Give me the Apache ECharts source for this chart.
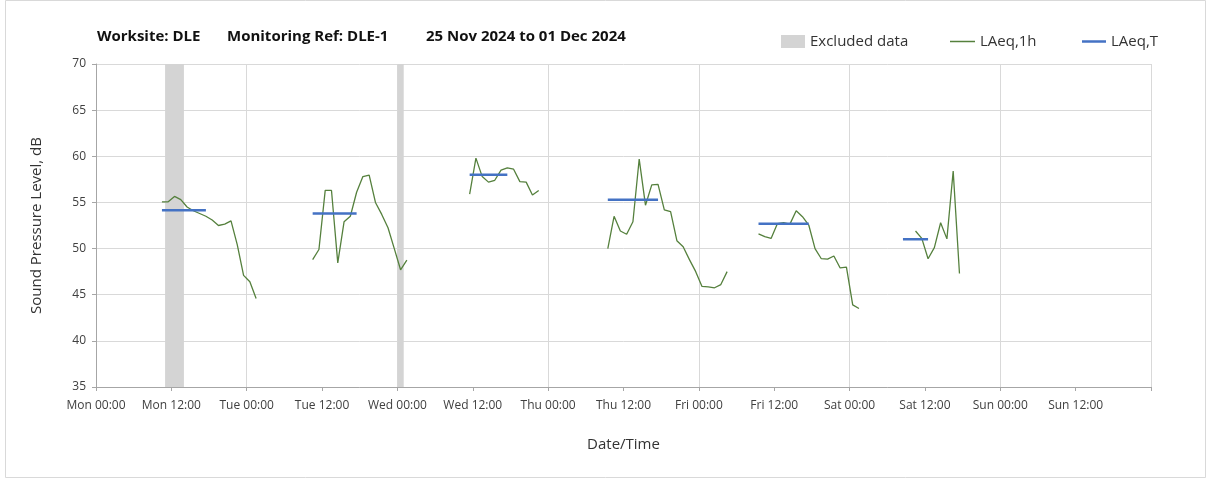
<!DOCTYPE html>
<html>
<head>
<meta charset="utf-8">
<script src="https://cdn.jsdelivr.net/npm/echarts@6/dist/echarts.min.js"></script>
<style>
html,body{margin:0;padding:0;background:#fff;}
#chart{width:1208px;height:479px;}
</style>
</head>
<body>
<div id="chart"></div>
<script>
// ---- Data (hours since Mon 00:00) ----
const dayNames = ['Mon', 'Tue', 'Wed', 'Thu', 'Fri', 'Sat', 'Sun', 'Mon'];
const yTicks = [35, 40, 45, 50, 55, 60, 65, 70];

// LAeq,1h segments: start hour and hourly values
const hourlyStarts = [10.5, 34.5, 59.5, 81.5, 105.5, 130.5];
const hourlyMon = [55.07, 55.07, 55.65, 55.3, 54.5, 54.1, 53.8, 53.5, 53.1, 52.5, 52.65, 53.0, 50.4, 47.1, 46.4, 44.6];
const hourlyTue = [48.8, 49.9, 56.3, 56.3, 48.45, 52.9, 53.5, 56.1, 57.8, 57.95, 55.0, 53.7, 52.25, 50.0, 47.7, 48.75];
const hourlyWed = [55.9, 59.8, 57.8, 57.2, 57.4, 58.5, 58.75, 58.6, 57.25, 57.2, 55.8, 56.3];
const hourlyThu = [50.0, 53.5, 51.9, 51.55, 52.9, 59.7, 54.7, 56.9, 56.95, 54.2, 54.0, 50.85, 50.2, 48.8, 47.5, 45.9, 45.85, 45.75, 46.1, 47.5];
const hourlyFri = [51.6, 51.3, 51.1, 52.7, 52.8, 52.65, 54.1, 53.45, 52.55, 50.0, 48.9, 48.85, 49.2, 47.9, 48.0, 43.9, 43.5];
const hourlySat = [51.9, 51.1, 48.9, 50.1, 52.8, 51.05, 58.4, 47.3];

// LAeq,T periods: start hour, end hour, level
const periodStarts = [10.5, 34.5, 59.5, 81.5, 105.5, 128.5];
const periodEnds = [17.5, 41.5, 65.5, 89.5, 113.5, 132.5];
const periodLevels = [54.15, 53.8, 58.0, 55.3, 52.7, 51.0];

// Excluded data ranges (hours)
const excludedStarts = [11, 48];
const excludedEnds = [14, 49];

// ---- Build series data ----
const hourlySegments = [hourlyMon, hourlyTue, hourlyWed, hourlyThu, hourlyFri, hourlySat];
const hourlyData = [];
hourlySegments.forEach((seg, i) => {
  seg.forEach((v, j) => hourlyData.push([hourlyStarts[i] + j, v]));
  hourlyData.push([hourlyStarts[i] + seg.length, '-']);
});
const periodData = [];
periodLevels.forEach((v, i) => {
  periodData.push([periodStarts[i], v]);
  periodData.push([periodEnds[i], v]);
  periodData.push([periodEnds[i] + 0.5, '-']);
});
const excludedData = excludedStarts.map((s, i) => [s, excludedEnds[i]]);

const FONT = 'Open Sans';
const GREEN = '#55803d';
const BLUE = '#4472c4';
const GREY_BAND = '#d4d4d4';

const chart = echarts.init(document.getElementById('chart'), null, {renderer: 'canvas'});

chart.setOption({
  backgroundColor: '#fff',
  animation: false,
  textStyle: {fontFamily: FONT},
  graphic: [
    {type: 'rect', shape: {x: 5.5, y: 0.5, width: 1200, height: 477}, style: {fill: 'none', stroke: '#d9d9d9', lineWidth: 1}, silent: true, z: -10},
    {type: 'text', left: 97, top: 29, style: {text: 'Worksite: DLE', font: 'bold 15px "Open Sans"', fill: '#111'}},
    {type: 'text', left: 227, top: 29, style: {text: 'Monitoring Ref: DLE-1', font: 'bold 15px "Open Sans"', fill: '#111'}},
    {type: 'text', left: 426, top: 29, style: {text: '25 Nov 2024 to 01 Dec 2024', font: 'bold 15px "Open Sans"', fill: '#111'}}
  ],
  legend: [
    {left: 776, top: 29, itemWidth: 24, itemHeight: 13, itemGap: 5,
     textStyle: {fontFamily: FONT, fontSize: 15, color: '#333'},
     data: [{name: 'Excluded data', icon: 'rect', itemStyle: {color: GREY_BAND}}]},
    {left: 945, top: 29, itemWidth: 25, itemHeight: 13,
     textStyle: {fontFamily: FONT, fontSize: 15, color: '#333'},
     data: [{name: 'LAeq,1h', icon: 'path://M0,6 L25,6 L25,7.5 L0,7.5 Z', itemStyle: {color: GREEN}}]},
    {left: 1077, top: 29, itemWidth: 24, itemHeight: 13,
     textStyle: {fontFamily: FONT, fontSize: 15, color: '#333'},
     data: [{name: 'LAeq,T', icon: 'path://M0,5.5 L24,5.5 L24,8 L0,8 Z', itemStyle: {color: BLUE}}]}
  ],
  grid: {left: 96, right: 57, top: 64, bottom: 92},
  xAxis: [
    {
      type: 'value', min: 0, max: 168, interval: 12,
      name: 'Date/Time', nameLocation: 'middle', nameGap: 50,
      nameTextStyle: {fontFamily: FONT, fontSize: 15, color: '#333'},
      axisLine: {show: true, lineStyle: {color: '#a6a6a6', width: 1}},
      axisTick: {show: true, length: 4, lineStyle: {color: '#a6a6a6'}},
      axisLabel: {
        fontFamily: FONT, fontSize: 12, color: '#404040', margin: 13,
        formatter: v => v >= 168 ? '' : dayNames[Math.floor(v / 24)] + ' ' + (v % 24 === 0 ? '00:00' : '12:00')
      },
      splitLine: {show: false}
    },
    {
      type: 'value', min: 0, max: 168, interval: 24, position: 'bottom',
      axisLine: {show: false}, axisTick: {show: false}, axisLabel: {show: false},
      splitLine: {show: true, lineStyle: {color: '#d9d9d9', width: 1}}
    }
  ],
  yAxis: {
    type: 'value', min: yTicks[0], max: yTicks[yTicks.length - 1], interval: 5,
    name: 'Sound Pressure Level, dB', nameLocation: 'middle', nameGap: 52,
    nameTextStyle: {fontFamily: FONT, fontSize: 15, color: '#333'},
    axisLine: {show: true, lineStyle: {color: '#a6a6a6', width: 1}},
    axisTick: {show: true, length: 4, lineStyle: {color: '#a6a6a6'}},
    axisLabel: {fontFamily: FONT, fontSize: 12, color: '#404040', margin: 10},
    splitLine: {show: true, lineStyle: {color: '#d9d9d9', width: 1}}
  },
  series: [
    {
      name: 'Excluded data', type: 'custom', xAxisIndex: 0, yAxisIndex: 0,
      itemStyle: {color: GREY_BAND},
      data: excludedData,
      encode: {x: [0, 1]},
      renderItem: function (params, api) {
        const p0 = api.coord([api.value(0), yTicks[yTicks.length - 1]]);
        const p1 = api.coord([api.value(1), yTicks[0]]);
        return {type: 'rect', shape: {x: p0[0], y: p0[1], width: p1[0] - p0[0], height: p1[1] - p0[1]},
                style: {fill: GREY_BAND}};
      },
      z: 1
    },
    {
      name: 'LAeq,1h', type: 'line', xAxisIndex: 0, data: hourlyData,
      symbol: 'none', connectNulls: false,
      itemStyle: {color: GREEN},
      lineStyle: {color: GREEN, width: 1.3},
      z: 3
    },
    {
      name: 'LAeq,T', type: 'line', xAxisIndex: 0, data: periodData,
      symbol: 'none', connectNulls: false,
      itemStyle: {color: BLUE},
      lineStyle: {color: BLUE, width: 2.5},
      z: 4
    }
  ]
});
</script>
</body>
</html>
